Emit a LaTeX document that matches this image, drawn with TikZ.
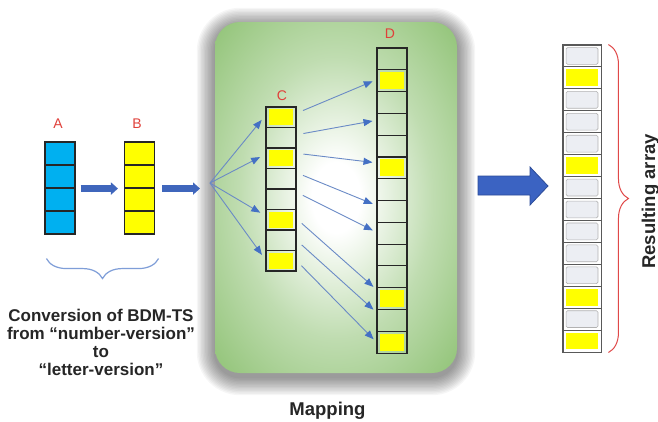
\documentclass[tikz,border=0pt]{standalone}
\usepackage{fontspec}
\setmainfont{Liberation Sans}
\usetikzlibrary{arrows.meta,decorations.pathreplacing,calc}
\definecolor{cyanA}{HTML}{00B0F0}
\definecolor{yel}{HTML}{FFFF00}
\definecolor{grn}{RGB}{128,186,98}
\definecolor{thickblue}{HTML}{3F66BC}
\definecolor{bigblue}{HTML}{3B63C2}
\definecolor{bigblueb}{HTML}{2C4C98}
\definecolor{arrline}{HTML}{6A8AC6}
\definecolor{arrhead}{HTML}{4470C4}
\definecolor{labred}{HTML}{E0403A}
\definecolor{bracered}{HTML}{E04848}
\definecolor{braceblue}{HTML}{7F9ED8}
\definecolor{rescell}{HTML}{ECEEF3}
\pgfdeclareradialshading{glow}{\pgfpoint{0bp}{0bp}}{color(0bp)=(white); color(5bp)=(white); color(20bp)=(grn!50!white); color(36bp)=(grn!88!white); color(50bp)=(grn)}
\begin{document}
\begin{tikzpicture}[x=1pt,y=-1pt,
  cell/.style={draw=black!85, line width=1.1pt, inner sep=0pt, minimum width=30pt},
  rcell/.style={draw=black!65, line width=0.9pt, inner sep=0pt, minimum width=38pt, minimum height=21.93pt},
  lab/.style={text=labred, font=\fontsize{14}{14}\selectfont, inner sep=0pt},
  bigtext/.style={font=\fontsize{17}{18}\selectfont\bfseries, inner sep=0pt, text=black!85},
  thinarrow/.style={draw=arrline, line width=0.9pt, -{Triangle[length=9pt,width=7pt,color=arrhead]}},
  thickarrow/.style={draw=thickblue, line width=6.5pt, -{Triangle[length=7pt,width=12pt]}}]
\useasboundingbox (0,0) rectangle (658,421);
\fill[white] (0,0) rectangle (658,421);

% shadow of the mapping panel
\foreach \k in {1,...,13}
  \fill[black, opacity=0.035, rounded corners={(25+1.4*\k)*1pt}]
    ({215-1.4*\k},{22-1.4*\k+4}) rectangle ({457+1.4*\k},{373+1.4*\k+4});
% mapping panel
\path[shading=glow, rounded corners=25pt] (215,22) rectangle (457,373);

% array A and B
\foreach \i in {1,...,4} {
  \node[cell, fill=cyanA, minimum height=23pt] (a\i) at (60,{142+(\i-0.5)*23}) {};
  \node[cell, fill=yel, minimum height=23pt] (b\i) at (139.5,{142+(\i-0.5)*23}) {};
}
% array C
\foreach \i in {1,...,8}
  \node[cell, minimum height=20.5pt] (c\i) at (281,{107+(\i-0.5)*20.5}) {};
\foreach \i in {1,3,6,8}
  \fill[yel] ($(c\i.north west)+(4pt,-3pt)$) rectangle ($(c\i.south east)+(-4pt,3pt)$);
% array D
\foreach \i in {1,...,14}
  \node[cell, minimum height=21.79pt] (d\i) at (392,{48+(\i-0.5)*21.79}) {};
\foreach \i in {2,6,12,14}
  \fill[yel] ($(d\i.north west)+(4pt,-3pt)$) rectangle ($(d\i.south east)+(-4pt,3pt)$);
% resulting array
\foreach \i in {1,...,14}
  \node[rcell] (r\i) at (582,{45+(\i-0.5)*21.93}) {};
\foreach \i in {1,3,4,5,7,8,9,10,11,13}
  \filldraw[fill=rescell, draw=black!30, line width=0.6pt, rounded corners=1.5pt]
    ($(r\i.north west)+(3.5pt,-3pt)$) rectangle ($(r\i.south east)+(-3.5pt,3pt)$);
\foreach \i in {2,6,12,14}
  \fill[yel] ($(r\i.north west)+(3.5pt,-3pt)$) rectangle ($(r\i.south east)+(-3.5pt,3pt)$);
\draw[black!65, line width=1.4pt] (r1.north west) rectangle (r14.south east);

% labels
\node[lab] (labA) at (58,124) {A};
\node[lab] (labB) at (137,124) {B};
\node[lab] (labC) at (282,96) {C};
\node[lab] (labD) at (390,34) {D};

% thick arrows
\coordinate (fan) at (210,183);
\draw[thickarrow, shorten <=5pt, shorten >=6pt] (a2.south east) -- (b2.south west);
\draw[thickarrow, shorten <=7pt, shorten >=10pt] (b2.south east) -- (b2.south east -| fan);

% fan arrows to C
\foreach \t/\y in {1/2,3/4,6/4,8/1}
  \draw[thinarrow, shorten >=6pt] (fan) -- ([yshift=\y pt]c\t.west);

% arrows C -> D
\foreach \s/\t/\ys/\yt in {1/2/4/1, 2/4/3/4, 3/6/5/5, 4/8/6/6, 5/9/7/1, 6/12/1/9, 7/13/0/8, 8/14/0/0}
  \draw[thinarrow, shorten <=7pt, shorten >=4pt] ([yshift=\ys pt]c\s.east) -- ([yshift=\yt pt]d\t.west);

% big arrow to result
\filldraw[fill=bigblue, draw=bigblueb, line width=0.8pt, line join=miter]
  (478,176) -- (530,176) -- (530,167) -- (548,186) -- (530,205) -- (530,195) -- (478,195) -- cycle;

% braces
\draw[braceblue, line width=1.2pt, decorate, decoration={brace, mirror, amplitude=20pt}]
  ([xshift=2pt,yshift=-24pt]a4.south west) -- ([xshift=3.5pt,yshift=-24pt]b4.south east);
\draw[bracered, line width=1pt, decorate, decoration={brace, amplitude=20pt}]
  ([xshift=7pt]r1.north east) -- ([xshift=7pt]r14.south east);

% texts
\node[bigtext, align=center, anchor=north] (conv) at (101,308.5)
  {Conversion of BDM-TS\\from “number-version”\\to\\“letter-version”};
\node[bigtext, font=\fontsize{18.5}{18}\selectfont\bfseries, anchor=base] (map) at (327.5,415) {Mapping};
\node[bigtext, font=\fontsize{18.5}{18}\selectfont\bfseries, anchor=base, rotate=90] (res) at (655,201.5) {Resulting array};
\end{tikzpicture}
\end{document}
